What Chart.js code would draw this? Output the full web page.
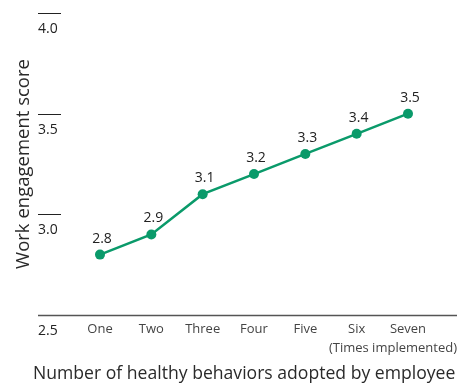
<!DOCTYPE html>
<html>
<head>
<meta charset="utf-8">
<script src="https://cdn.jsdelivr.net/npm/chart.js@4/dist/chart.umd.min.js"></script>
<style>
  html, body { margin: 0; padding: 0; background: #fff; }
  #wrap { width: 457px; height: 387px; position: relative; }
</style>
</head>
<body>
<div id="wrap"><canvas id="c"></canvas></div>
<script>
// Work engagement score by number of healthy behaviors adopted.
const CATEGORIES = ['One', 'Two', 'Three', 'Four', 'Five', 'Six', 'Seven'];
const SCORES = [2.8, 2.9, 3.1, 3.2, 3.3, 3.4, 3.5];
const Y_TICKS = [2.5, 3.0, 3.5, 4.0];
const Y_TITLE = 'Work engagement score';
const X_TITLE = 'Number of healthy behaviors adopted by employee';
const X_UNIT = '(Times implemented)';

const GREEN = '#0a9a6a';
const FONT = '"Open Sans", "Noto Sans", sans-serif';

// Axes are hidden; ticks, baseline and titles are painted here from the scales.
const axisPainter = {
  id: 'axisPainter',
  afterDatasetsDraw(chart) {
    const { ctx, scales: { x, y }, chartArea } = chart;
    ctx.save();

    // short tick bars with the value printed underneath
    ctx.font = '14px ' + FONT;
    ctx.fillStyle = '#222';
    ctx.textAlign = 'left';
    ctx.textBaseline = 'middle';
    Y_TICKS.forEach(v => {
      const py = Math.round(y.getPixelForValue(v)) + 0.5;
      if (v === Y_TICKS[0]) {
        ctx.strokeStyle = '#555';
        ctx.lineWidth = 1.5;
        ctx.beginPath();
        ctx.moveTo(38, py);
        ctx.lineTo(457, py);
        ctx.stroke();
      } else {
        ctx.strokeStyle = '#222';
        ctx.lineWidth = 1;
        ctx.beginPath();
        ctx.moveTo(38, py);
        ctx.lineTo(61, py);
        ctx.stroke();
      }
      ctx.fillText(v.toFixed(1), 38, py + 16);
    });

    // category labels
    ctx.font = '13px ' + FONT;
    ctx.fillStyle = '#444';
    ctx.textAlign = 'center';
    CATEGORIES.forEach((c, i) => {
      ctx.fillText(c, x.getPixelForValue(i), chartArea.bottom + 14);
    });
    ctx.textAlign = 'right';
    ctx.fillText(X_UNIT, 457, chartArea.bottom + 33);

    // axis titles
    ctx.font = '17.6px ' + FONT;
    ctx.fillStyle = '#2a2a2a';
    ctx.textAlign = 'left';
    ctx.fillText(X_TITLE, 33, 374);

    ctx.font = '18.5px ' + FONT;
    ctx.translate(24, 164);
    ctx.rotate(-Math.PI / 2);
    ctx.textAlign = 'center';
    ctx.fillText(Y_TITLE, 0, 0);
    ctx.restore();
  }
};

// value printed above each point
const pointLabels = {
  id: 'pointLabels',
  afterDatasetsDraw(chart) {
    const { ctx } = chart;
    const meta = chart.getDatasetMeta(0);
    ctx.save();
    ctx.font = '14px ' + FONT;
    ctx.fillStyle = '#222';
    ctx.textAlign = 'center';
    ctx.textBaseline = 'middle';
    meta.data.forEach((pt, i) => {
      ctx.fillText(SCORES[i].toFixed(1), pt.x + 2, pt.y - 16);
    });
    ctx.restore();
  }
};

new Chart(document.getElementById('c'), {
  type: 'line',
  data: {
    labels: CATEGORIES,
    datasets: [{
      data: SCORES,
      borderColor: GREEN,
      backgroundColor: GREEN,
      pointBackgroundColor: GREEN,
      pointBorderWidth: 0,
      pointRadius: 5,
      borderWidth: 2.5,
      tension: 0,
    }],
  },
  options: {
    responsive: true,
    maintainAspectRatio: false,
    animation: false,
    layout: { padding: { left: 100, right: 49, top: 13, bottom: 72 } },
    plugins: { legend: { display: false }, tooltip: { enabled: false } },
    scales: {
      x: { display: false, offset: false },
      y: { display: false, min: 2.5, max: 4.0 },
    },
  },
  plugins: [axisPainter, pointLabels],
});
</script>
</body>
</html>
